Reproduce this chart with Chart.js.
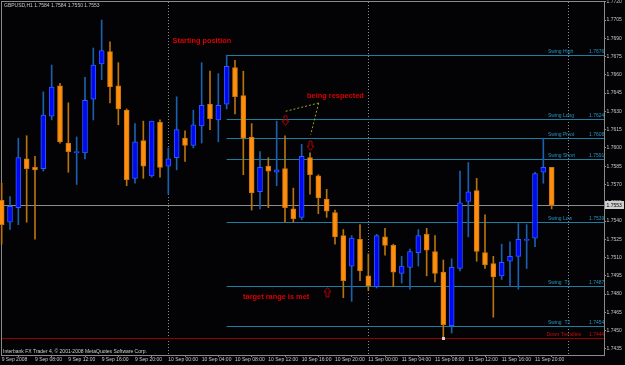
<!DOCTYPE html>
<html><head><meta charset="utf-8">
<script src="https://cdn.jsdelivr.net/npm/chart.js@4.4.0/dist/chart.umd.min.js"></script>
<style>html,body{margin:0;padding:0;background:#000;overflow:hidden}canvas{display:block}</style>
</head><body>
<canvas id="c" width="625" height="365"></canvas>
<script>
// ---- data (GBPUSD H1, bar 0 = 9 Sep 2008 04:00) ----
const symbolTitle = 'GBPUSD,H1 1.7584 1.7584 1.7550 1.7553';
const copyright = 'Interbank FX Trader 4, \u00A9 2001-2008 MetaQuotes Software Corp.';
const opens  = [1.7557,1.7539,1.7551,1.7591,1.7584,1.7583,1.7626,1.7651,1.7604,1.7596,1.7596,1.7640,1.7669,1.7679,1.7651,1.7631,1.7575,1.7606,1.7577,1.7621,1.7585,1.7592,1.7608,1.7602,1.7618,1.7636,1.7623,1.7636,1.7666,1.7643,1.7609,1.7564,1.7585,1.7580,1.7583,1.7550,1.7543,1.7592,1.7577,1.7558,1.7547,1.7528,1.7503,1.7525,1.7495,1.7486,1.7527,1.7520,1.7497,1.7502,1.7514,1.7529,1.7515,1.7498,1.7454,1.7501,1.7556,1.7565,1.7514,1.7505,1.7495,1.7507,1.7511,1.7524,1.7526,1.7580,1.7584];
const highs  = [1.7571,1.7560,1.7608,1.7610,1.7593,1.7646,1.7668,1.7653,1.7637,1.7609,1.7658,1.7682,1.7705,1.7687,1.7670,1.7632,1.7620,1.7622,1.7622,1.7623,1.7600,1.7642,1.7614,1.7631,1.7670,1.7663,1.7661,1.7676,1.7672,1.7663,1.7620,1.7597,1.7592,1.7622,1.7610,1.7567,1.7603,1.7596,1.7578,1.7566,1.7549,1.7533,1.7528,1.7537,1.7513,1.7529,1.7534,1.7521,1.7511,1.7517,1.7533,1.7534,1.7528,1.7508,1.7509,1.7581,1.7588,1.7575,1.7545,1.7511,1.7521,1.7523,1.7538,1.7537,1.7580,1.7608,1.7584];
const lows   = [1.7521,1.7533,1.7537,1.7539,1.7525,1.7581,1.7623,1.7604,1.7580,1.7570,1.7591,1.7623,1.7656,1.7637,1.7619,1.7569,1.7571,1.7575,1.7576,1.7576,1.7562,1.7582,1.7589,1.7600,1.7604,1.7615,1.7605,1.7632,1.7628,1.7578,1.7549,1.7550,1.7551,1.7569,1.7539,1.7539,1.7541,1.7562,1.7546,1.7543,1.7521,1.7477,1.7474,1.7491,1.7483,1.7485,1.7512,1.7486,1.7489,1.7484,1.7503,1.7495,1.7490,1.7444,1.7448,1.7499,1.7527,1.7507,1.7501,1.7461,1.7492,1.7486,1.7484,1.7501,1.7519,1.7571,1.7550];
const closes = [1.7537,1.7552,1.7592,1.7583,1.7582,1.7627,1.7650,1.7605,1.7597,1.7597,1.7639,1.7668,1.7680,1.7650,1.7632,1.7574,1.7605,1.7585,1.7622,1.7584,1.7591,1.7615,1.7602,1.7619,1.7635,1.7624,1.7635,1.7667,1.7642,1.7608,1.7563,1.7584,1.7581,1.7582,1.7551,1.7542,1.7593,1.7578,1.7559,1.7548,1.7527,1.7491,1.7526,1.7499,1.7487,1.7528,1.7520,1.7498,1.7503,1.7515,1.7528,1.7516,1.7497,1.7455,1.7502,1.7555,1.7564,1.7515,1.7504,1.7494,1.7506,1.7511,1.7525,1.7525,1.7579,1.7584,1.7553];

const xTickBars   = [0,4,8,12,16,20,24,28,32,36,40,44,48,52,56,60,64];
const xTickLabels = ['9 Sep 2008','9 Sep 08:00','9 Sep 12:00','9 Sep 16:00','9 Sep 20:00','10 Sep 00:00','10 Sep 04:00','10 Sep 08:00','10 Sep 12:00','10 Sep 16:00','10 Sep 20:00','11 Sep 00:00','11 Sep 04:00','11 Sep 08:00','11 Sep 12:00','11 Sep 16:00','11 Sep 20:00'];
const daySeparators = [20,44,68];
const yTicks = [1.7720,1.7705,1.7690,1.7675,1.7660,1.7645,1.7630,1.7615,1.7600,1.7585,1.7570,1.7555,1.7540,1.7525,1.7510,1.7495,1.7480,1.7465,1.7450,1.7435];

const levelStartBar = 27;
const levelNames  = ['Swing High','Swing Long','Swing Pivot','Swing Short','Swing Low','Swing  T1','Swing  T2'];
const levelValues = [1.7676,1.7624,1.7608,1.7591,1.7539,1.7487,1.7454];
const trendName = 'Down Trendline';
const trendValue = 1.7444;
const lowMarkBar = 53;

const noteTexts  = ['Starting position','being respected','target range is met'];
const noteBars   = [20.5,36.65,28.97];
const notePrices = [1.76876,1.76425,1.74773];

const arrowBars   = [34,37,39];
const arrowPrices = [1.7619,1.7598,1.7486];
const arrowDirs   = ['down','down','up'];

const pointerFromBar = 38.04, pointerFromPrice = 1.76369;
const pointerToBars   = [34.05,37.08];
const pointerToPrices = [1.76300,1.76109];

// ---- chart ----
const bull = closes.map((c,i)=>c>=opens[i]);
const SMALL = '5px "Liberation Sans"';

const overlay = {
  id:'mt4overlay',
  beforeDraw(chart){
    const {ctx, width, height} = chart;
    ctx.save(); ctx.fillStyle='#030305'; ctx.fillRect(0,0,width,height); ctx.restore();
  },
  beforeDatasetsDraw(chart){
    const {ctx, chartArea:a, scales:{x,y}} = chart;
    ctx.save();
    // frame
    ctx.strokeStyle='#8a8a8a'; ctx.lineWidth=1;
    ctx.strokeRect(a.left-0.5, a.top-0.5, a.right-a.left+1, a.bottom-a.top+1);
    // day separators
    ctx.strokeStyle='#8a8a8a'; ctx.setLineDash([1,2]);
    daySeparators.forEach(b=>{
      const px=Math.round(x.getPixelForValue(b))+0.5;
      ctx.beginPath(); ctx.moveTo(px,a.top); ctx.lineTo(px,a.bottom); ctx.stroke();
    });
    ctx.setLineDash([]);
    // level lines
    const x0 = x.getPixelForValue(levelStartBar);
    ctx.strokeStyle='#1b7fa3';
    levelValues.forEach(v=>{
      const py=Math.round(y.getPixelForValue(v))+0.5;
      ctx.beginPath(); ctx.moveTo(x0,py); ctx.lineTo(a.right,py); ctx.stroke();
    });
    // current price line
    const last = closes[closes.length-1];
    let py=Math.round(y.getPixelForValue(last))+0.5;
    ctx.strokeStyle='#8c8c8c';
    ctx.beginPath(); ctx.moveTo(a.left,py); ctx.lineTo(a.right,py); ctx.stroke();
    // down trendline
    py=Math.round(y.getPixelForValue(trendValue))+0.5;
    ctx.strokeStyle='#9a0000';
    ctx.beginPath(); ctx.moveTo(a.left,py); ctx.lineTo(a.right,py); ctx.stroke();
    // pointer lines
    ctx.strokeStyle='#a0a020'; ctx.setLineDash([2,2]);
    const fx=x.getPixelForValue(pointerFromBar), fy=y.getPixelForValue(pointerFromPrice);
    pointerToBars.forEach((b,i)=>{
      ctx.beginPath(); ctx.moveTo(fx,fy); ctx.lineTo(x.getPixelForValue(b), y.getPixelForValue(pointerToPrices[i])); ctx.stroke();
    });
    ctx.restore();
  },
  afterDatasetsDraw(chart){
    const {ctx, chartArea:a, scales:{x,y}} = chart;
    ctx.save();
    // level labels
    ctx.font=SMALL; ctx.textBaseline='bottom'; ctx.textAlign='left';
    ctx.fillStyle='#2a93bd';
    levelValues.forEach((v,i)=>{
      const py=Math.round(y.getPixelForValue(v));
      ctx.fillText(levelNames[i], a.right-56, py-0.5);
      ctx.fillText(v.toFixed(4), a.right-15, py-0.5);
    });
    const ty=Math.round(y.getPixelForValue(trendValue));
    ctx.fillStyle='#c41010';
    ctx.fillText(trendName, a.right-57.5, ty-0.5);
    ctx.fillText(trendValue.toFixed(4), a.right-15, ty-0.5);
    // low marker
    ctx.fillStyle='#d0d0d0';
    ctx.fillRect(Math.round(x.getPixelForValue(lowMarkBar))-1, Math.round(y.getPixelForValue(trendValue))-1, 3, 3);
    // notes
    ctx.font='bold 7.4px "Liberation Sans"'; ctx.textBaseline='middle'; ctx.fillStyle='#dd0000';
    noteTexts.forEach((t,i)=>ctx.fillText(t, x.getPixelForValue(noteBars[i]), y.getPixelForValue(notePrices[i])));
    // arrows
    ctx.strokeStyle='#b00000'; ctx.lineWidth=1;
    arrowBars.forEach((b,i)=>{
      const cx=Math.round(x.getPixelForValue(b))+0.5;
      const tip=Math.round(y.getPixelForValue(arrowPrices[i]))+0.5;
      const s = arrowDirs[i]==='down' ? -1 : 1;
      ctx.beginPath();
      ctx.moveTo(cx, tip);
      ctx.lineTo(cx+3.5, tip+s*4.5);
      ctx.lineTo(cx+1.5, tip+s*4.5);
      ctx.lineTo(cx+1.5, tip+s*9.5);
      ctx.lineTo(cx-1.5, tip+s*9.5);
      ctx.lineTo(cx-1.5, tip+s*4.5);
      ctx.lineTo(cx-3.5, tip+s*4.5);
      ctx.closePath(); ctx.stroke();
    });
    ctx.restore();
  },
  afterDraw(chart){
    const {ctx, chartArea:a, scales:{y}} = chart;
    ctx.save();
    ctx.font=SMALL; ctx.textBaseline='middle'; ctx.textAlign='left';
    ctx.fillStyle='#c8c8c8';
    ctx.fillText(symbolTitle, 4, 5.5);
    ctx.fillStyle='#d0d0d0';
    ctx.fillText(copyright, 3, 351.5);
    // bid price box on axis
    const last=closes[closes.length-1];
    const py=Math.round(y.getPixelForValue(last));
    ctx.fillStyle='#cfcfcf';
    ctx.fillRect(a.right+1, py-4, 19, 8);
    ctx.fillStyle='#000';
    ctx.fillText(last.toFixed(4), a.right+2.5, py+0.5);
    ctx.restore();
  }
};

new Chart(document.getElementById('c'), {
  type:'bar',
  data:{
    datasets:[
      { label:'body', data: opens.map((o,i)=>({x:i, y:[o, closes[i]]})),
        backgroundColor: bull.map(b=>b?'#0008f0':'#ff8e0c'),
        borderColor: bull.map(b=>b?'#2a5cff':'#cc7410'),
        borderWidth:1, borderSkipped:false, barThickness:5, minBarLength:1,
        grouped:false, order:0, clip:false },
      { label:'wick', data: lows.map((l,i)=>({x:i, y:[l, highs[i]]})),
        backgroundColor: bull.map(b=>b?'#1c5fae':'#b8720e'),
        borderWidth:0, barThickness:1, grouped:false, order:1, clip:false }
    ]
  },
  options:{
    responsive:false, animation:false, devicePixelRatio:1, events:[],
    layout:{padding:{left:2, top:2, right:0, bottom:0}},
    plugins:{legend:{display:false}, tooltip:{enabled:false}},
    scales:{
      x:{ type:'linear', position:'bottom', offset:false, min:0.04, max:72.28,
        afterBuildTicks(s){ s.ticks = xTickBars.map(v=>({value:v})); },
        afterFit(s){ s.height=10; s.paddingLeft=0; s.paddingRight=0; },
        grid:{display:true, drawOnChartArea:false, drawTicks:true, tickLength:2, color:'#8a8a8a'},
        border:{display:false},
        ticks:{ autoSkip:false, maxRotation:0, minRotation:0, align:'start', padding:0,
          color:'#c8c8c8', font:{family:'Liberation Sans', size:5},
          callback:(v,i)=>xTickLabels[i] }
      },
      y:{ type:'linear', position:'right', min:1.7430, max:1.77198,
        afterBuildTicks(s){ s.ticks = yTicks.map(v=>({value:v})); },
        afterFit(s){ s.width=21; s.paddingTop=0; s.paddingBottom=0; },
        grid:{display:true, drawOnChartArea:false, drawTicks:true, tickLength:2, color:'#8a8a8a'},
        border:{display:false},
        ticks:{ autoSkip:false, padding:0.5, color:'#c8c8c8', font:{family:'Liberation Sans', size:5},
          callback:(v)=>Number(v).toFixed(4) }
      }
    }
  },
  plugins:[overlay]
});
</script>
</body></html>
